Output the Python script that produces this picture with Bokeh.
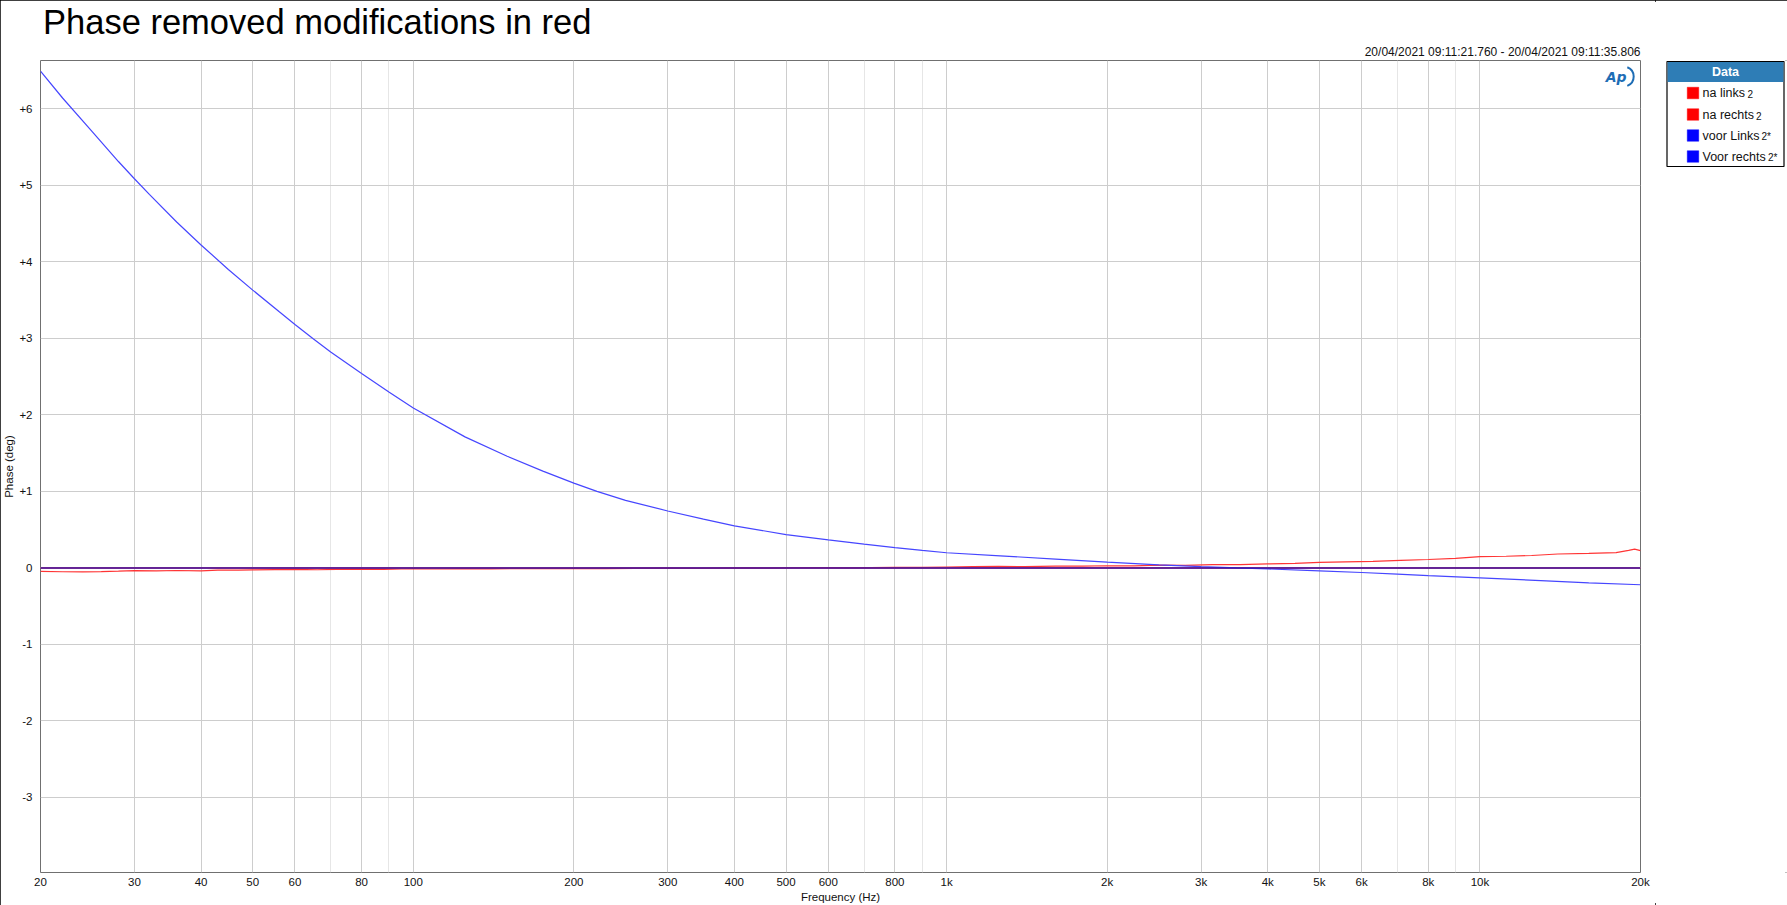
from bokeh.plotting import figure
from bokeh.models import FixedTicker, CustomJSTickFormatter, Title, Range1d
from bokeh.layouts import row
from bokeh.embed import file_html
from bokeh.resources import INLINE
from bokeh.core.properties import value

# ---------------- data ----------------
title_text = "Phase removed modifications in red"
time_text = "20/04/2021 09:11:21.760 - 20/04/2021 09:11:35.806"
x_label = "Frequency (Hz)"
y_label = "Phase (deg)"
legend_title = "Data"

series_names = ["na links", "na rechts", "voor Links", "Voor rechts"]
series_suffix = ["2", "2", "2*", "2*"]

x_major_ticks = [20, 30, 40, 50, 60, 80, 100, 200, 300, 400, 500, 600, 800,
                 1000, 2000, 3000, 4000, 5000, 6000, 8000, 10000, 20000]
x_minor_ticks = [70, 90, 700, 900, 7000, 9000]
y_ticks = [-3, -2, -1, 0, 1, 2, 3, 4, 5, 6]

freq_voor_links = [20, 22, 25, 28, 30, 32, 36, 40, 45, 50, 56, 60, 65, 70, 80, 90,
                   100, 125, 150, 175, 200, 221, 250, 300, 350, 400, 500, 600, 700,
                   800, 900, 1000, 1260, 1600, 2000, 2500, 3000, 3500, 4000, 5000,
                   6000, 7000, 8000, 10000, 13000, 16000, 20000]
phase_voor_links = [6.49, 6.14, 5.70, 5.31, 5.085, 4.88, 4.52, 4.22, 3.90, 3.63, 3.35,
                    3.18, 2.99, 2.82, 2.54, 2.30, 2.09, 1.712, 1.459, 1.265, 1.108,
                    1.0, 0.883, 0.744, 0.637, 0.55, 0.435, 0.366, 0.31, 0.265, 0.228,
                    0.198, 0.158, 0.115, 0.075, 0.04, 0.017, 0.0, -0.013, -0.04, -0.06,
                    -0.08, -0.10, -0.13, -0.166, -0.195, -0.22]

freq_na_links = [20, 22, 24, 26, 28, 30, 33, 36, 40, 43, 47, 50, 55, 60, 66, 72, 80,
                 88, 95, 100, 110, 125, 140, 160, 180, 200, 230, 260, 300, 340, 380,
                 420, 470, 520, 580, 650, 720, 800, 900, 1000, 1120, 1250, 1400, 1600,
                 1800, 2000, 2250, 2500, 2800, 3150, 3550, 4000, 4500, 5000, 5600,
                 6300, 7100, 8000, 9000, 10000, 11200, 12500, 14000, 16000, 18000,
                 19000, 19500, 20000]
phase_na_links = [-0.045, -0.05, -0.052, -0.048, -0.042, -0.036, -0.038, -0.034,
                  -0.04, -0.03, -0.028, -0.025, -0.022, -0.02, -0.024, -0.018, -0.016,
                  -0.02, -0.014, -0.012, -0.014, -0.01, -0.012, -0.008, -0.01, -0.008,
                  -0.01, -0.006, -0.004, -0.008, -0.002, 0.0, -0.003, 0.002, 0.004,
                  0.0, 0.004, 0.008, 0.006, 0.012, 0.016, 0.02, 0.018, 0.024, 0.022,
                  0.028, 0.026, 0.036, 0.034, 0.044, 0.042, 0.052, 0.06, 0.072, 0.078,
                  0.086, 0.098, 0.11, 0.124, 0.148, 0.152, 0.162, 0.182, 0.19, 0.2,
                  0.23, 0.245, 0.225]

freq_flat = [20, 20000]
phase_na_rechts = [0.0, 0.0]
phase_voor_rechts = [0.0, 0.0]

# ---------------- styles ----------------
FONT = "Liberation Sans"
NARROW = "Liberation Sans Narrow, Liberation Sans, sans-serif"
RED = "#ff3535"
BLUE = "#4646ff"
FLAT = "#3412a8"
LEGEND_COLORS = ["#ff0000", "#ff0000", "#0000ff", "#0000ff"]

H = 905
W_MAIN = 1655
W_LEG = 132
FRAME_TOP, FRAME_BOTTOM = 60, 872

p = figure(width=W_MAIN, height=H, x_axis_type="log",
           x_range=Range1d(20, 20000), y_range=Range1d(-3.98, 6.63),
           output_backend="svg", toolbar_location=None,
           min_border_left=38, min_border_right=W_MAIN - 1640,
           min_border_top=FRAME_TOP, min_border_bottom=H - FRAME_BOTTOM,
           background_fill_color="white", border_fill_color="white")

p.add_layout(Title(text=time_text, align="right", text_font=FONT,
                   text_font_size="12px", text_font_style="normal",
                   text_color="#111111", standoff=4), "above")
p.title.text = title_text
p.title.text_font = FONT
p.title.text_font_size = "34.5px"
p.title.text_font_style = "normal"
p.title.text_color = "black"
p.title.align = "left"
p.title.offset = 2.5
p.title.standoff = 0

p.outline_line_color = "#707070"
p.outline_line_width = 1

p.xaxis.ticker = FixedTicker(ticks=x_major_ticks, minor_ticks=x_minor_ticks)
p.xaxis.formatter = CustomJSTickFormatter(
    code="return tick >= 1000 ? (tick/1000) + 'k' : String(tick);")
p.yaxis.ticker = FixedTicker(ticks=y_ticks)
p.yaxis.formatter = CustomJSTickFormatter(
    code="return tick > 0 ? '+' + tick : String(tick);")

for ax in (p.xaxis, p.yaxis):
    ax.axis_line_color = None
    ax.major_tick_line_color = None
    ax.minor_tick_line_color = None
    ax.major_tick_out = 0
    ax.minor_tick_out = 0
    ax.major_tick_in = 0
    ax.minor_tick_in = 0
    ax.major_label_text_font = NARROW
    ax.major_label_text_font_size = "11.5px"
    ax.major_label_text_color = "#111111"
    ax.axis_label_text_font = NARROW
    ax.axis_label_text_font_size = "11.5px"
    ax.axis_label_text_font_style = "normal"
    ax.axis_label_text_color = "#111111"

p.xaxis.axis_label = x_label
p.yaxis.axis_label = y_label
p.xaxis.major_label_standoff = 3
p.xaxis.axis_label_standoff = 0
p.yaxis.major_label_standoff = 8
p.yaxis.axis_label_standoff = 1

p.xgrid.grid_line_color = "#cdcdcd"
p.xgrid.minor_grid_line_color = "#e6e6e6"
p.ygrid.grid_line_color = "#cdcdcd"

p.line(freq_flat, phase_na_rechts, color=RED, line_width=1.5)
p.line(freq_na_links, phase_na_links, color=RED, line_width=1.2)
p.line(freq_voor_links, phase_voor_links, color=BLUE, line_width=1.2)
p.line(freq_flat, phase_voor_rechts, color=FLAT, line_width=1.5)

# AP logo (approximation)
p.text(x=[18000], y=[6.42], text=["Ap"], text_font=value("DejaVu Sans"),
       text_font_size="14px", text_font_style="bold italic", text_color="#1e6db5",
       text_align="center", text_baseline="middle")
p.arc(x=[18600], y=[6.42], radius=10, radius_units="screen", start_angle=-1.2,
      end_angle=1.2, line_color="#1e6db5", line_width=2)

# ---------------- legend panel (data units = page pixels) ----------------
L = figure(width=W_LEG, height=H, x_range=Range1d(W_MAIN, W_MAIN + W_LEG),
           y_range=Range1d(FRAME_BOTTOM, FRAME_TOP),
           output_backend="svg", toolbar_location=None,
           min_border_left=0, min_border_right=0,
           min_border_top=FRAME_TOP, min_border_bottom=H - FRAME_BOTTOM,
           x_axis_type=None, y_axis_type=None, background_fill_color="white",
           border_fill_color="white")
L.grid.visible = False
L.outline_line_color = None

BOX = (1666.5, 1783.5, 61, 166)
HEAD_BOTTOM = 81.5
ROW_Y = [92.5, 114, 135, 156]
SQ_X = 1692.5
TEXT_X = 1702
SUFFIX_X = [1747, 1755.5, 1761, 1767.5]

L.quad(left=[BOX[0]], right=[BOX[1]], top=[BOX[2]], bottom=[BOX[3]],
       fill_color="white", line_color="black", line_width=1.2)
L.quad(left=[BOX[0] + 0.6], right=[BOX[1] - 0.6], top=[BOX[2] + 0.6],
       bottom=[HEAD_BOTTOM], fill_color="#2e7db6", line_color=None)
L.text(x=[(BOX[0] + BOX[1]) / 2], y=[(BOX[2] + HEAD_BOTTOM) / 2 + 0.5],
       text=[legend_title], text_font=value(FONT), text_font_size="12.5px",
       text_font_style="bold", text_color="white", text_align="center",
       text_baseline="middle")

L.rect(x=[SQ_X] * 4, y=ROW_Y, width=11.5, height=11.5, fill_color=LEGEND_COLORS,
       line_color=LEGEND_COLORS, line_alpha=0.45, line_width=1)
L.text(x=[TEXT_X] * 4, y=[v + 0.3 for v in ROW_Y], text=series_names,
       text_font=value(FONT), text_font_size="12.5px", text_color="#111111",
       text_baseline="middle")
L.text(x=SUFFIX_X, y=[v + 1.4 for v in ROW_Y], text=series_suffix,
       text_font=value(FONT), text_font_size="10px", text_color="#111111",
       text_baseline="middle")

layout = row(p, L, styles={"outline": "2px solid black", "outline-offset": "-2px"})
open("out.html", "w").write(file_html(layout, INLINE))
